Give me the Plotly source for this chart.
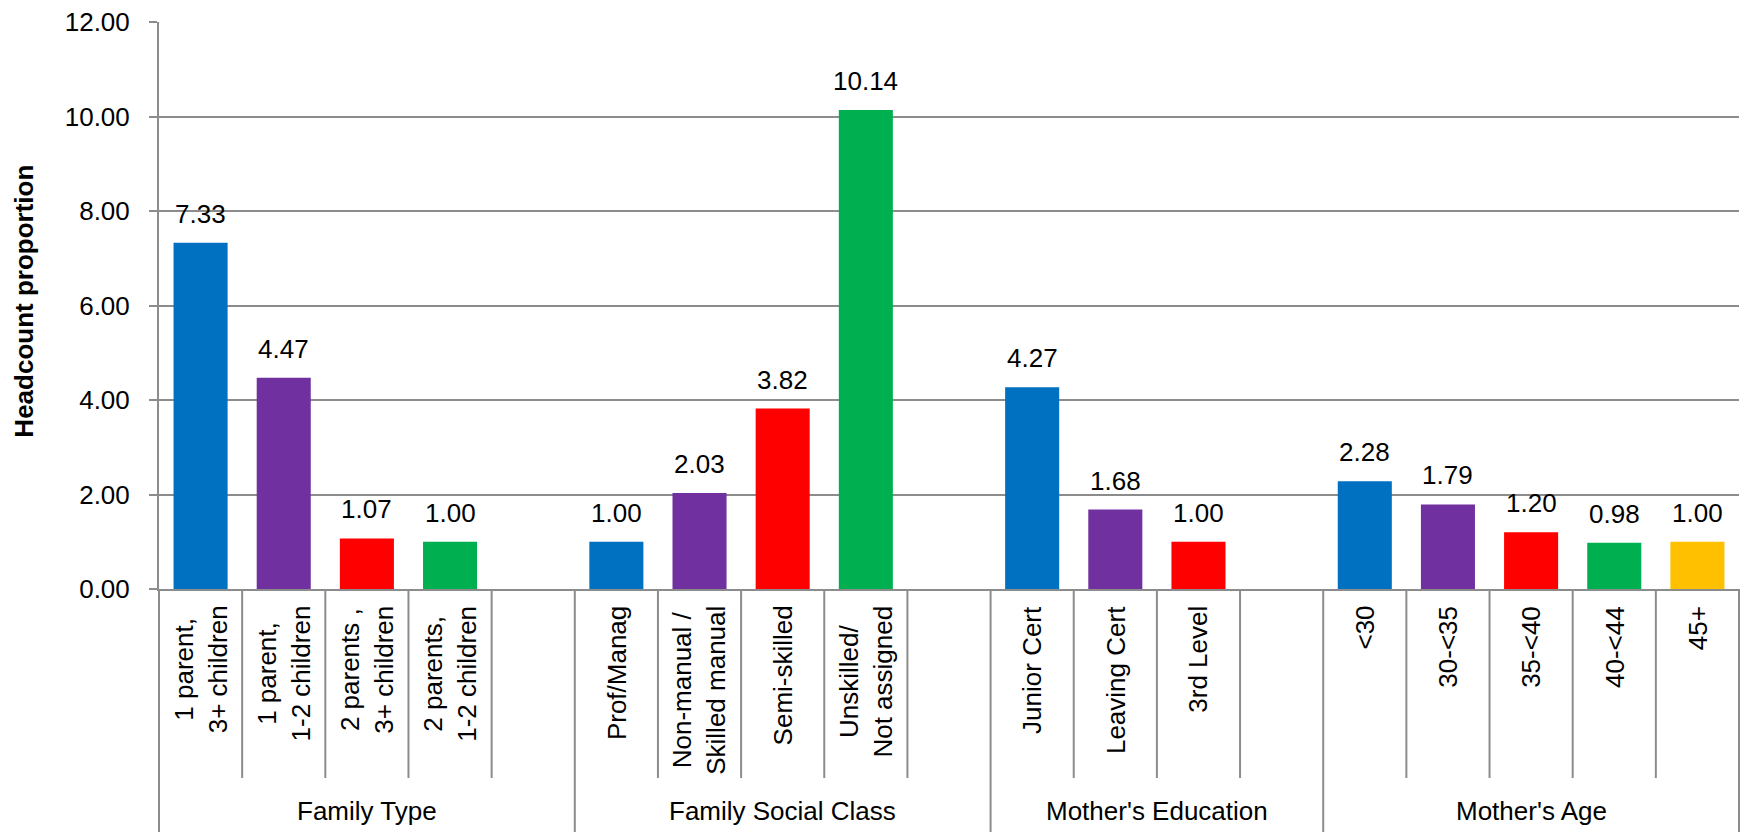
import plotly.graph_objects as go

# ---- data ----
groups = ["Family Type", "Family Social Class", "Mother's Education", "Mother's Age"]
family_type_labels = ["1 parent,<br>3+ children", "1 parent,<br>1-2 children",
                      "2 parents ,<br>3+ children", "2 parents,<br>1-2 children", ""]
family_type_values = [7.33, 4.47, 1.07, 1.00, None]
social_class_labels = ["Prof/Manag", "Non-manual /<br>Skilled manual", "Semi-skilled",
                       "Unskilled/<br>Not assigned", ""]
social_class_values = [1.00, 2.03, 3.82, 10.14, None]
education_labels = ["Junior Cert", "Leaving Cert", "3rd Level", ""]
education_values = [4.27, 1.68, 1.00, None]
age_labels = ["<30", "30-<35", "35-<40", "40-<44", "45+"]
age_values = [2.28, 1.79, 1.20, 0.98, 1.00]

palette = ["#0070C0", "#7030A0", "#FF0000", "#00B050", "#FFC000"]

group_labels = [family_type_labels, social_class_labels, education_labels, age_labels]
group_values = [family_type_values, social_class_values, education_values, age_values]

FONT = "Liberation Sans, Arial, sans-serif"
GRAY = "#8c8c8c"
FS = 26

xs, ys, cols, labels = [], [], [], []
group_spans = []
pos = 0
for labs, vals in zip(group_labels, group_values):
    start = pos
    for j, (lab, v) in enumerate(zip(labs, vals)):
        labels.append((pos, lab))
        if v is not None:
            xs.append(pos)
            ys.append(v)
            cols.append(palette[j])
        pos += 1
    group_spans.append((start, pos))
n_slots = pos

fig = go.Figure(go.Bar(x=xs, y=ys, width=0.65, marker=dict(color=cols, line=dict(width=0)),
                       hoverinfo="x+y"))

annotations = []
# value labels
for x, y in zip(xs, ys):
    annotations.append(dict(x=x, y=y, xref="x", yref="y", text=f"{y:.2f}", showarrow=False,
                            yanchor="bottom", yshift=12, font=dict(size=FS, color="black", family=FONT)))
# category tick labels (rotated)
for x, lab in labels:
    if lab:
        annotations.append(dict(x=x, y=-0.026, xref="x", yref="paper", text=lab, showarrow=False,
                                textangle=-90, xanchor="center", yanchor="top", align="center",
                                font=dict(size=FS, color="black", family=FONT)))
# group labels
for g, (s, e) in zip(groups, group_spans):
    annotations.append(dict(x=(s + e - 1) / 2, y=-0.392, xref="x", yref="paper", text=g,
                            showarrow=False, xanchor="center", yanchor="middle",
                            font=dict(size=FS, color="black", family=FONT)))
# y-axis title
annotations.append(dict(x=-0.086, y=0.507, xref="paper", yref="paper", text="<b>Headcount proportion</b>",
                        showarrow=False, textangle=-90, xanchor="center", yanchor="middle",
                        font=dict(size=FS, color="black", family=FONT)))

shapes = []
group_edges = set()
for s, e in group_spans:
    group_edges.add(s)
    group_edges.add(e)
for b in range(n_slots + 1):
    y1 = -0.45 if b in group_edges else -0.3333
    shapes.append(dict(type="line", xref="x domain", yref="paper", x0=b / n_slots, x1=b / n_slots,
                       y0=0, y1=y1, line=dict(color=GRAY, width=2)))

fig.update_layout(
    width=1746, height=832,
    margin=dict(l=159, r=7, t=19, b=243),
    plot_bgcolor="white", paper_bgcolor="white",
    showlegend=False,
    font=dict(family=FONT, size=FS, color="black"),
    xaxis=dict(range=[-0.5, n_slots - 0.5], showticklabels=False, showgrid=False, zeroline=False,
               showline=True, linecolor=GRAY, linewidth=2, ticks=""),
    yaxis=dict(range=[0, 12], dtick=2, tickformat=".2f", showgrid=True, gridcolor=GRAY, gridwidth=2,
               zeroline=False, showline=True, linecolor=GRAY, linewidth=2, ticks="outside", ticklen=8,
               tickcolor=GRAY, tickwidth=2, ticklabelstandoff=14,
               tickfont=dict(size=FS, color="black", family=FONT)),
    annotations=annotations,
    shapes=shapes,
)

fig.write_html("out.html")
